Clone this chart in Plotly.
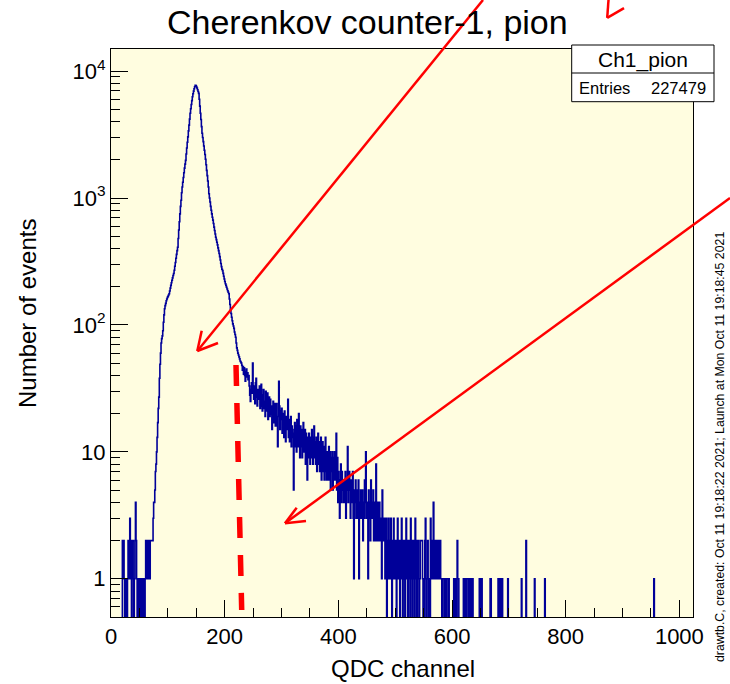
import numpy as np
import plotly.graph_objects as go

# ---------------- data ----------------
n_channels = 1024
entries = 227479

low_start = 20   # channels 20..69
low_counts = [2, 1, 2, 1, 0, 1, 0, 1, 0, 1,
              2, 1, 2, 3, 1, 2, 0, 1, 2, 1,
              0, 1, 2, 4, 2, 1, 0, 1, 1, 0,
              1, 0, 1, 1, 0, 1, 0, 1, 0, 0,
              1, 2, 1, 2, 2, 1, 2, 2, 1, 2]

peak_start = 70  # channels 70..229
peak_counts = [2, 2, 2, 2, 3, 4, 4, 5, 7, 8,
               10, 13, 17, 22, 27, 38, 49, 60, 72, 78,
               82, 90, 105, 120, 134, 142, 148, 155, 160, 165,
               168, 172, 176, 185, 195, 205, 215, 225, 235, 245,
               254, 270, 290, 310, 335, 360, 385, 409, 480, 560,
               650, 750, 860, 960, 1100, 1220, 1330, 1450, 1580, 1720,
               1850, 1980, 2220, 2480, 2750, 3030, 3380, 3750, 4180, 4650,
               5050, 5450, 5850, 6270, 6620, 6950, 7250, 7520, 7740, 7700,
               7550, 7350, 7120, 6900, 6670, 6000, 5300, 4650, 4150, 3650,
               3240, 3000, 2780, 2570, 2380, 2200, 2020, 1830, 1650, 1500,
               1360, 1220, 1080, 1000, 930, 860, 800, 750, 706, 670,
               630, 590, 555, 520, 491, 470, 448, 427, 405, 385,
               365, 345, 325, 305, 288, 275, 268, 255, 242, 230,
               220, 211, 205, 198, 192, 186, 181, 176, 160, 145,
               132, 123, 115, 108, 102, 98, 94, 88, 84, 80,
               72, 66, 63, 60, 58, 56, 54, 52, 51, 50]

tail_start = 230  # channels 230..559
tail_counts = [48, 44, 47, 41, 46, 40, 36, 43, 45, 39,
               42, 37, 40, 33, 28, 25, 31, 35, 29, 50,
               30, 26, 33, 24, 35, 38, 27, 23, 31, 26,
               29, 33, 22, 27, 34, 23, 21, 28, 31, 22,
               25, 19, 30, 21, 26, 29, 18, 24, 27, 19,
               26, 20, 23, 15, 22, 25, 17, 21, 24, 16,
               21, 24, 16, 11, 19, 36, 23, 15, 21, 18,
               22, 14, 20, 17, 13, 21, 16, 12, 19, 15,
               17, 26, 13, 18, 12, 17, 19, 11, 16, 13,
               14, 5, 15, 17, 11, 16, 10, 18, 13, 11,
               20, 12, 9, 16, 11, 15, 9, 14, 17, 10,
               13, 15, 8, 14, 10, 6, 13, 9, 14, 10,
               8, 13, 9, 15, 10, 8, 13, 16, 9, 12,
               8, 13, 7, 11, 14, 8, 12, 7, 10, 13,
               6, 10, 12, 7, 11, 6, 9, 13, 7, 6,
               10, 6, 8, 11, 6, 10, 5, 9, 7, 10,
               5, 9, 6, 10, 8, 6, 14, 5, 9, 4,
               7, 5, 3, 6, 8, 4, 7, 5, 6, 4,
               6, 4, 7, 3, 5, 6, 11, 4, 5, 7,
               5, 3, 6, 4, 5, 7, 3, 1, 5, 4,
               6, 3, 4, 5, 3, 6, 1, 4, 3, 5,
               4, 3, 5, 2, 4, 3, 6, 4, 10, 3,
               4, 3, 1, 5, 3, 4, 2, 6, 3, 4,
               3, 5, 2, 4, 3, 2, 8, 3, 2, 4,
               3, 2, 4, 3, 2, 3, 1, 5, 2, 3,
               2, 3, 1, 2, 3, 0, 2, 1, 3, 2,
               1, 2, 3, 1, 0, 2, 1, 3, 2, 1,
               2, 1, 0, 2, 3, 1, 2, 1, 0, 2,
               1, 3, 1, 0, 2, 1, 2, 0, 1, 3,
               1, 2, 0, 1, 2, 1, 0, 3, 1, 2,
               0, 1, 2, 1, 0, 3, 1, 2, 0, 1,
               2, 1, 0, 1, 2, 2, 2, 2, 1, 0,
               1, 0, 2, 3, 1, 0, 1, 2, 1, 0]

high_channels = [560, 562, 563, 564, 565, 566, 567, 568, 569, 570, 571, 572, 573, 574,
                 575, 576, 577, 578, 579, 580, 581, 583, 584, 585, 587, 588, 590, 591,
                 592, 594, 603, 604, 606, 607, 609, 610, 611, 620, 622, 623, 625, 626,
                 627, 630, 633, 636, 648, 649, 652, 667, 668, 681, 682, 684, 685, 688,
                 698, 722, 730, 745, 763, 955]
high_counts = [1, 3, 1, 2, 1, 2, 4, 1, 2, 2, 1, 2, 1, 1,
               2, 1, 2, 1, 2, 1, 1, 1, 1, 1, 1, 1, 1, 1,
               1, 1, 1, 1, 1, 1, 2, 1, 1, 1, 1, 1, 1, 1,
               1, 1, 1, 1, 1, 1, 1, 1, 1, 1, 1, 1, 1, 1,
               1, 1, 2, 1, 1, 1]

x_tick_vals = [0, 200, 400, 600, 800, 1000]
y_tick_vals = [1, 10, 100, 1000, 10000]
y_tick_text = ["1", "10", "10<sup>2</sup>", "10<sup>3</sup>", "10<sup>4</sup>"]

# ---------------- build histogram ----------------
counts = np.zeros(n_channels)
counts[low_start:low_start + len(low_counts)] = low_counts
counts[peak_start:peak_start + len(peak_counts)] = peak_counts
counts[tail_start:tail_start + len(tail_counts)] = tail_counts
for c, v in zip(high_channels, high_counts):
    counts[c] = v

draw = np.where(counts > 0, counts, 0.01)  # empty bins drop below the frame
edges = np.arange(n_channels + 1)
y_step = np.append(draw, draw[-1])

# ---------------- geometry helpers (pixels -> paper) ----------------
W, H = 730, 684
L, R, T, B = 111, 693, 49, 617


def px(x):
    return (x - L) / (R - L)


def py(y):
    return (B - y) / (B - T)


FONT = "Liberation Sans, Arial, Helvetica, sans-serif"
RED = "#ff0000"

fig = go.Figure()
fig.add_trace(go.Scatter(x=edges, y=y_step, mode="lines", line_shape="hv",
                         line=dict(color="#000099", width=1.6),
                         hoverinfo="skip", showlegend=False))

shapes = []


def seg(x0, y0, x1, y1, color=RED, width=2.5, dash=None):
    d = dict(type="line", xref="paper", yref="paper",
             x0=px(x0), y0=py(y0), x1=px(x1), y1=py(y1),
             line=dict(color=color, width=width))
    if dash:
        d["line"]["dash"] = dash
    shapes.append(d)


# stats box
shapes.append(dict(type="rect", xref="paper", yref="paper",
                   x0=px(571.7), y0=py(45), x1=px(714), y1=py(101.7),
                   fillcolor="white", line=dict(color="black", width=1)))
seg(571.7, 73, 714, 73, color="black", width=1)

# red dashed cut line
seg(236, 365, 241.7, 610, width=5.5, dash="21px,17px")
# arrow 1
seg(483, 0, 197.3, 351)
seg(197.3, 351, 218, 343)
seg(197.3, 351, 201.7, 330.7)
# arrow 2 (head at top)
seg(607.2, 17.8, 624, 8.2)
seg(607.2, 17.8, 608.5, 0)
# arrow 3
seg(730, 198, 285, 523.3)
seg(285, 523.3, 306, 521)
seg(285, 523.3, 296.7, 507.7)

annotations = [
    dict(text="Cherenkov counter-1, pion", x=px(367), y=py(22), xref="paper", yref="paper",
         showarrow=False, font=dict(family=FONT, size=34, color="black"),
         xanchor="center", yanchor="middle"),
    dict(text="QDC channel", x=px(403), y=py(668), xref="paper", yref="paper",
         showarrow=False, font=dict(family=FONT, size=24, color="black"),
         xanchor="center", yanchor="middle"),
    dict(text="Number of events", x=px(27), y=py(314), xref="paper", yref="paper",
         showarrow=False, textangle=-90, font=dict(family=FONT, size=24, color="black"),
         xanchor="center", yanchor="middle"),
    dict(text="Ch1_pion", x=px(643), y=py(59.5), xref="paper", yref="paper",
         showarrow=False, font=dict(family=FONT, size=21, color="black"),
         xanchor="center", yanchor="middle"),
    dict(text="Entries", x=px(577), y=py(87.5), xref="paper", yref="paper",
         showarrow=False, font=dict(family=FONT, size=16.5, color="black"),
         xanchor="left", yanchor="middle"),
    dict(text=str(entries), x=px(707.5), y=py(87.5), xref="paper", yref="paper",
         showarrow=False, font=dict(family=FONT, size=16.5, color="black"),
         xanchor="right", yanchor="middle"),
    dict(text="drawtb.C, created: Oct 11 19:18:22 2021; Launch at Mon Oct 11 19:18:45 2021",
         x=px(720), y=py(447), xref="paper", yref="paper",
         showarrow=False, textangle=-90, font=dict(family=FONT, size=12.3, color="black"),
         xanchor="center", yanchor="middle"),
]

fig.update_layout(
    width=W, height=H,
    margin=dict(l=L, r=W - R, t=T, b=H - B, pad=0),
    paper_bgcolor="white", plot_bgcolor="#fffde0",
    shapes=shapes, annotations=annotations,
    font=dict(family=FONT, color="black"),
    xaxis=dict(range=[0, n_channels], tickvals=x_tick_vals, ticks="inside",
               ticklen=17, tickwidth=1, tickcolor="black",
               minor=dict(dtick=50, tick0=0, ticks="inside", ticklen=9, tickcolor="black", showgrid=False),
               showline=True, linecolor="black", linewidth=1, mirror=True,
               showgrid=False, zeroline=False, tickfont=dict(size=22, family=FONT)),
    yaxis=dict(type="log", range=[np.log10(0.5), 4.174], tickvals=y_tick_vals, ticktext=y_tick_text,
               ticks="inside", ticklen=17, tickwidth=1, tickcolor="black",
               minor=dict(dtick="D1", ticks="inside", ticklen=9, tickcolor="black", showgrid=False),
               showline=True, linecolor="black", linewidth=1, mirror=True,
               showgrid=False, zeroline=False, tickfont=dict(size=22, family=FONT)),
)

fig.write_html("out.html")
